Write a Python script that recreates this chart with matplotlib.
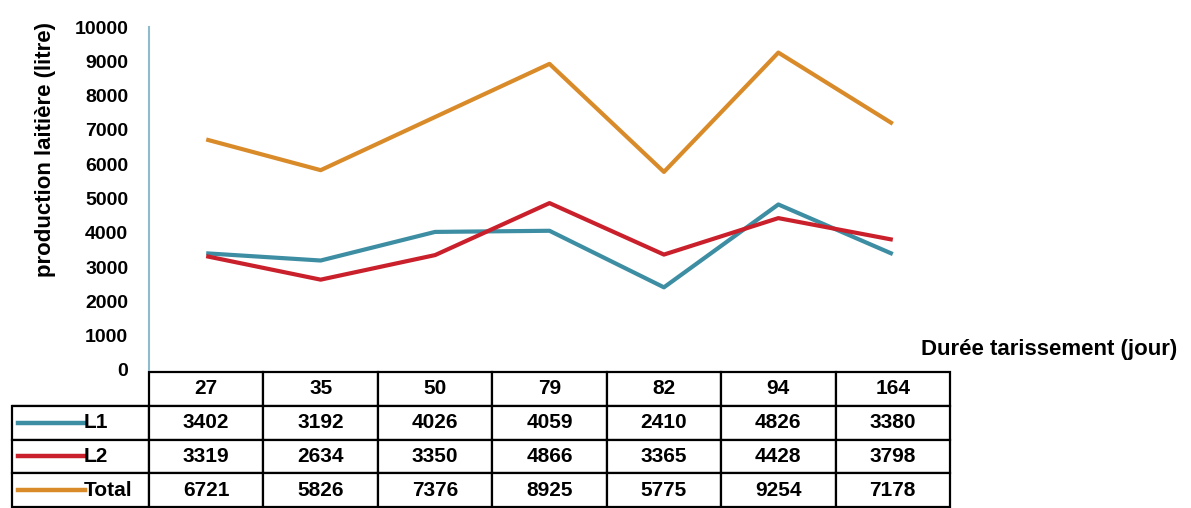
import matplotlib
matplotlib.use("Agg")
import matplotlib.pyplot as plt
from matplotlib.lines import Line2D

plt.rcParams['font.family'] = ['Liberation Sans', 'DejaVu Sans']
plt.rcParams['font.weight'] = 'bold'

categories = ["27", "35", "50", "79", "82", "94", "164"]
series_names = ["L1", "L2", "Total"]
L1 = [3402, 3192, 4026, 4059, 2410, 4826, 3380]
L2 = [3319, 2634, 3350, 4866, 3365, 4428, 3798]
Total = [6721, 5826, 7376, 8925, 5775, 9254, 7178]
yticks = [0, 1000, 2000, 3000, 4000, 5000, 6000, 7000, 8000, 9000, 10000]
colors = ["#3d8ea3", "#c9202c", "#d98b2a"]

W, H = 1191, 508
fig = plt.figure(figsize=(W / 100, H / 100), dpi=100)
ax_l, ax_r, ax_t, ax_b = 149, 950, 27, 370
ax = fig.add_axes([ax_l / W, 1 - ax_b / H, (ax_r - ax_l) / W, (ax_b - ax_t) / H])

x = list(range(len(categories)))
data = [L1, L2, Total]
for vals, c in zip(data, colors):
    ax.plot(x, vals, color=c, lw=3.0, solid_capstyle='butt')

ax.set_xlim(-0.5, len(categories) - 0.5)
ax.set_ylim(0, 10000)
ax.set_yticks(yticks)
ax.set_yticklabels([str(v) for v in yticks], fontsize=14, fontweight='bold')
ax.set_xticks([])
ax.tick_params(axis='y', length=0, pad=15)
for s in ['top', 'right', 'bottom']:
    ax.spines[s].set_visible(False)
ax.spines['left'].set_color('#8fbccc')
ax.spines['left'].set_linewidth(1.5)
fig.text(45 / W, 1 - 150 / H, "production laitière (litre)", rotation=90,
         ha='center', va='center', fontsize=16, fontweight='bold')

# data table
axw = ax_r - ax_l
axh = ax_b - ax_t
tab_left = 12
tab_top = 372
tab_bot = 507
first_w = (ax_l - tab_left) / axw
col_w = 1.0 / len(categories)
cell_text = [[""] + categories]
for vals in data:
    cell_text.append([""] + [str(v) for v in vals])
bbox = [-(ax_l - tab_left) / axw, -(tab_bot - ax_b) / axh,
        1 + first_w, (tab_bot - tab_top) / axh]
tbl = ax.table(cellText=cell_text, colWidths=[first_w] + [col_w] * len(categories),
               bbox=bbox, cellLoc='center')
tbl.auto_set_font_size(False)
for (r, c), cell in tbl.get_celld().items():
    cell.set_linewidth(1.6)
    cell.set_edgecolor('black')
    cell.get_text().set_fontsize(15)
    cell.get_text().set_fontweight('bold')
    if r == 0 and c == 0:
        cell.visible_edges = 'B'

# legend swatches in row label cells
row_h = (tab_bot - tab_top) / 4
for i, (name, c) in enumerate(zip(series_names, colors)):
    yc = tab_top + row_h * (i + 1.5)
    yf = 1 - yc / H
    fig.add_artist(Line2D([18 / W, 85 / W], [yf, yf], color=c, lw=3.2,
                          transform=fig.transFigure))
    fig.text(84 / W, yf, name, ha='left', va='center', fontsize=15, fontweight='bold')

fig.text(1177 / W, 1 - 350 / H, "Durée tarissement (jour)", ha='right', va='center',
         fontsize=16, fontweight='bold')

fig.savefig("out.png", dpi=100)
